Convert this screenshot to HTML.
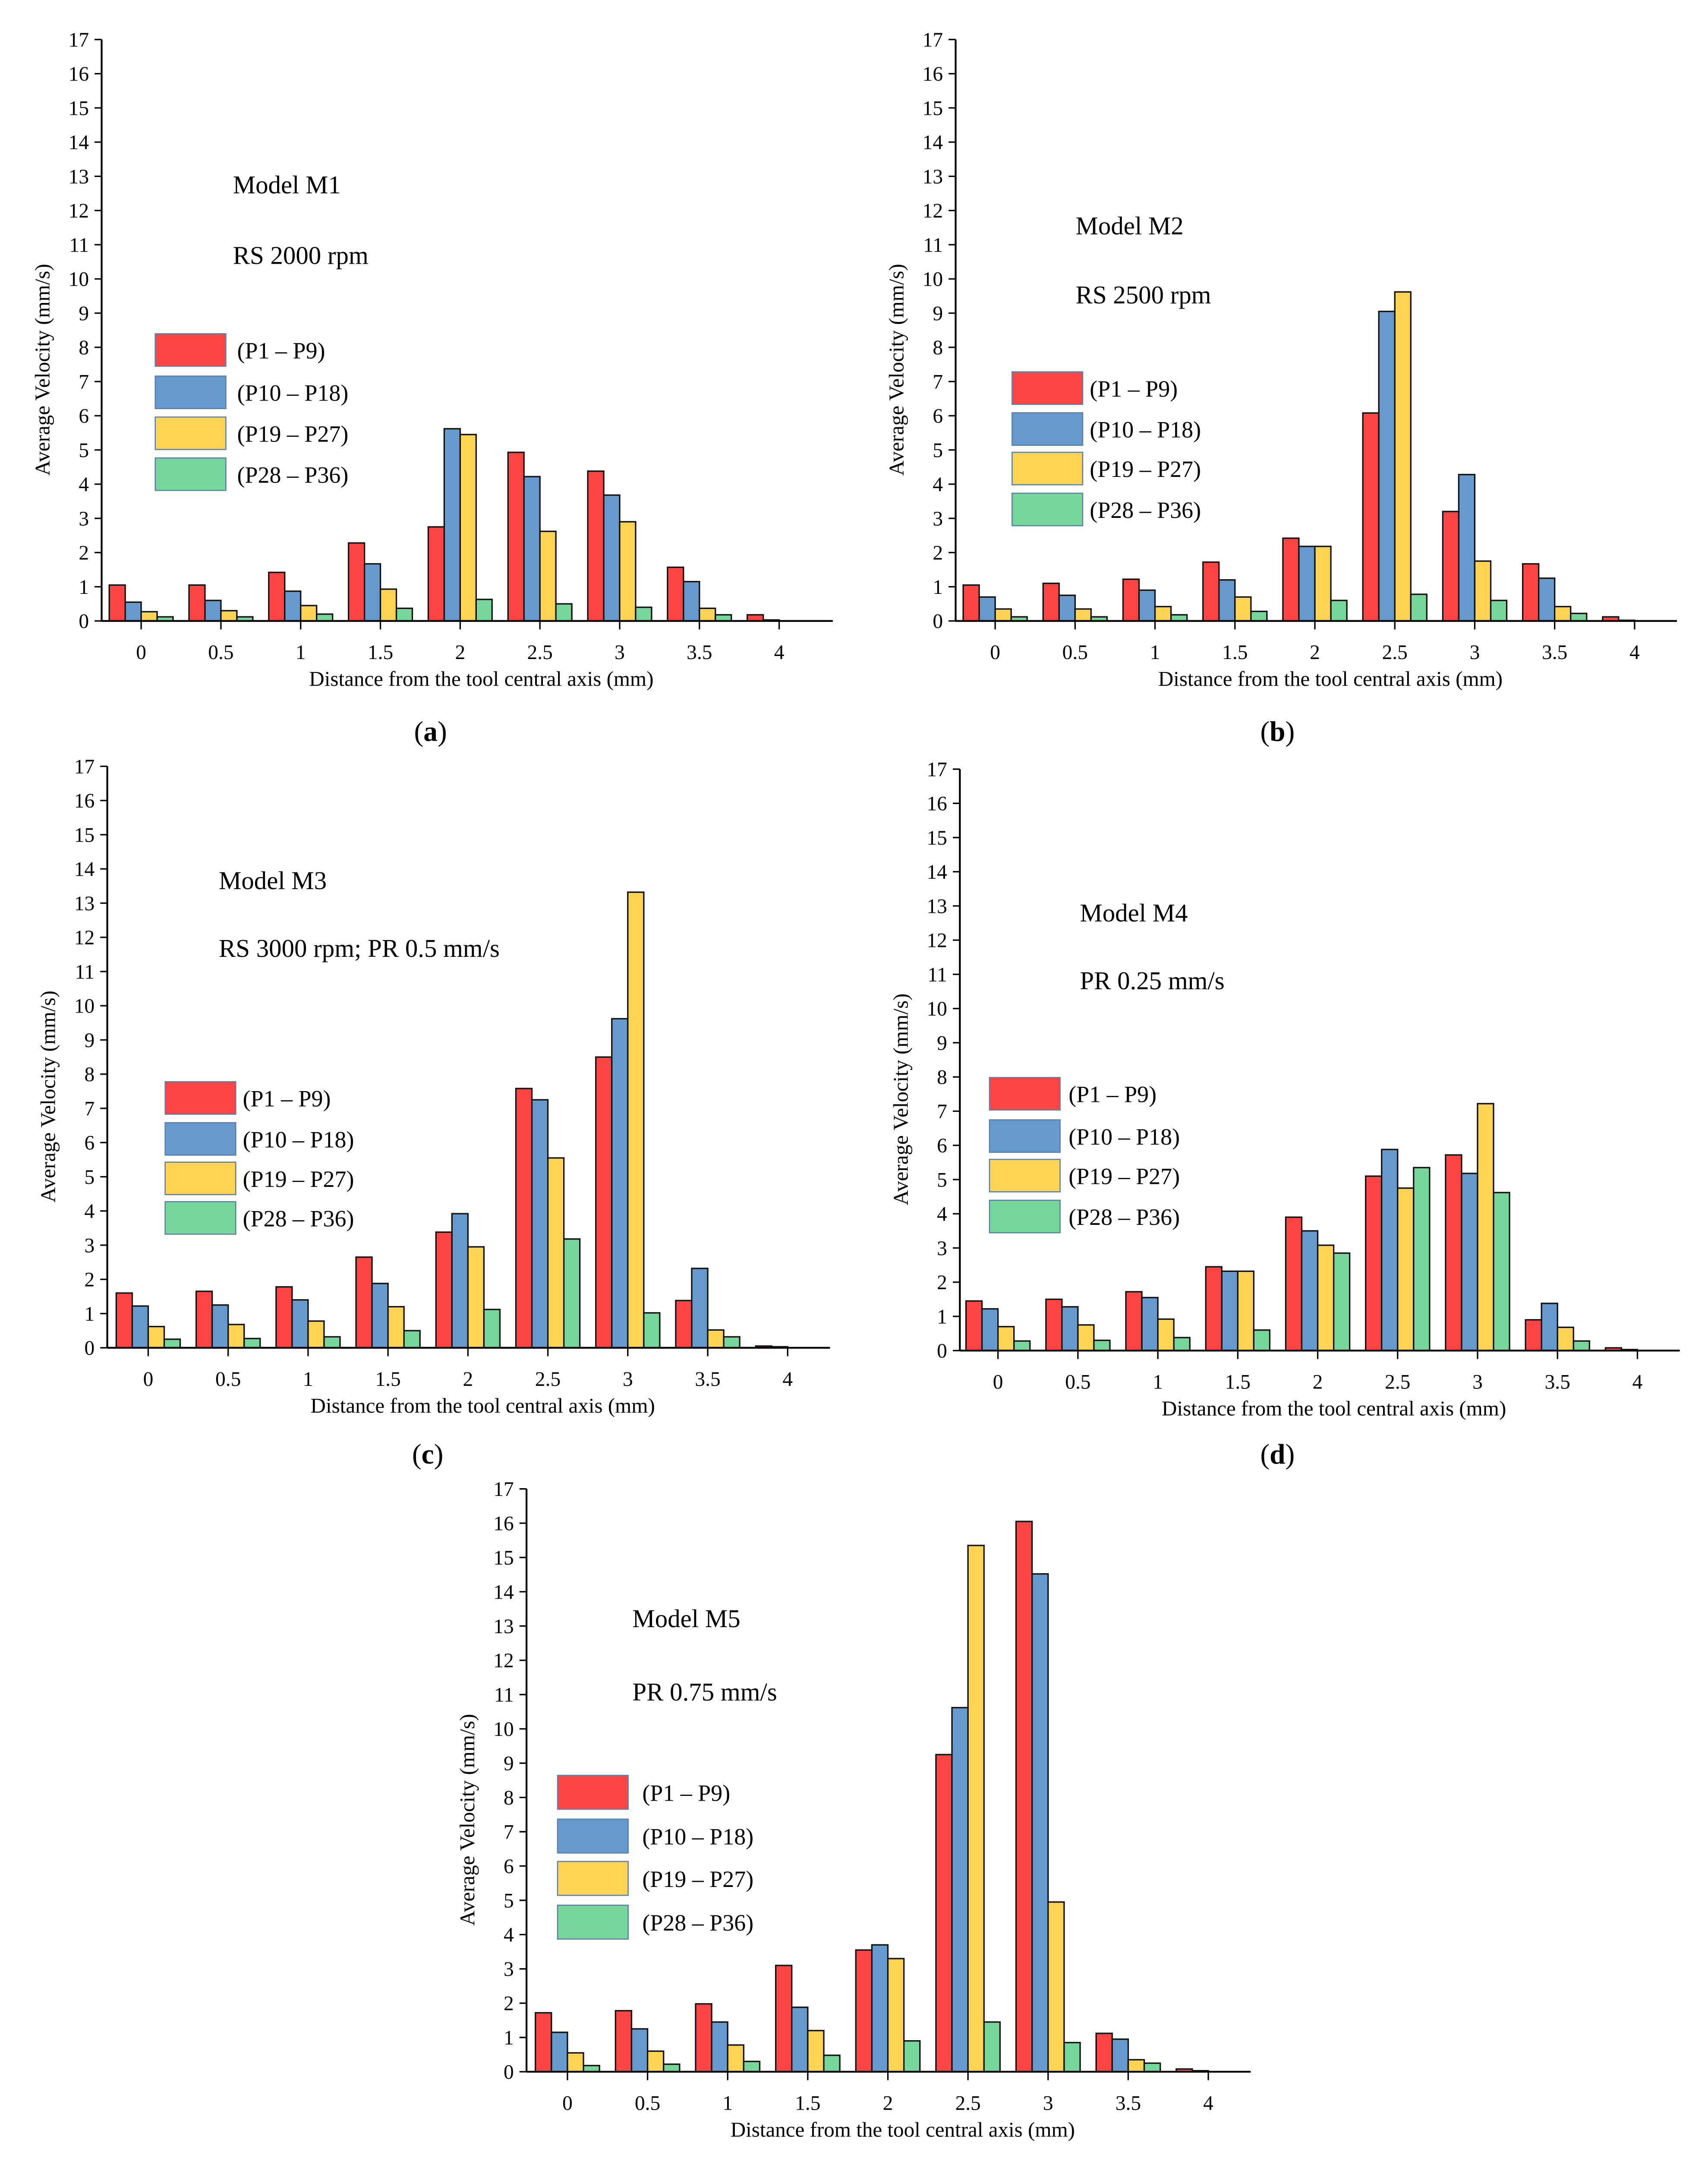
<!DOCTYPE html>
<html><head><meta charset="utf-8">
<style>html,body{margin:0;padding:0;background:#fff;overflow:hidden;width:3958px;height:5150px}svg{display:block}text{font-family:"Liberation Serif",serif;fill:#000}</style>
</head><body>
<svg id="fig" width="3958" height="5150" viewBox="0 0 1210 1575" preserveAspectRatio="none" xmlns="http://www.w3.org/2000/svg"></svg>
<script>
const categories = ["0","0.5","1","1.5","2","2.5","3","3.5","4"];
const yTicks = [0,1,2,3,4,5,6,7,8,9,10,11,12,13,14,15,16,17];
const seriesNames = ["(P1 – P9)","(P10 – P18)","(P19 – P27)","(P28 – P36)"];
const colors = ["#FF4444","#6699CC","#FFD455","#77D699"];

const aRed = [1.05,1.05,1.42,2.28,2.75,4.93,4.38,1.57,0.18];
const aBlue = [0.55,0.6,0.87,1.67,5.62,4.22,3.68,1.15,0.03];
const aYellow = [0.27,0.3,0.45,0.93,5.45,2.62,2.9,0.37,0];
const aGreen = [0.12,0.12,0.2,0.37,0.63,0.5,0.4,0.18,0];

const bRed = [1.05,1.1,1.22,1.72,2.42,6.08,3.2,1.67,0.12];
const bBlue = [0.7,0.75,0.9,1.2,2.18,9.05,4.28,1.25,0.02];
const bYellow = [0.35,0.35,0.42,0.7,2.18,9.62,1.75,0.42,0];
const bGreen = [0.12,0.12,0.18,0.28,0.6,0.78,0.6,0.22,0];

const cRed = [1.6,1.65,1.78,2.65,3.38,7.58,8.5,1.38,0.05];
const cBlue = [1.22,1.25,1.4,1.88,3.92,7.25,9.62,2.32,0.03];
const cYellow = [0.62,0.68,0.78,1.2,2.95,5.55,13.32,0.52,0];
const cGreen = [0.25,0.27,0.32,0.5,1.12,3.18,1.02,0.32,0];

const dRed = [1.45,1.5,1.72,2.45,3.9,5.1,5.72,0.9,0.08];
const dBlue = [1.22,1.28,1.55,2.32,3.5,5.88,5.18,1.38,0.03];
const dYellow = [0.7,0.75,0.92,2.32,3.08,4.75,7.22,0.68,0];
const dGreen = [0.28,0.3,0.38,0.6,2.85,5.35,4.62,0.28,0];

const eRed = [1.72,1.78,1.98,3.1,3.55,9.25,16.05,1.12,0.08];
const eBlue = [1.15,1.25,1.45,1.88,3.7,10.62,14.52,0.95,0.03];
const eYellow = [0.55,0.6,0.78,1.2,3.3,15.35,4.95,0.35,0];
const eGreen = [0.18,0.22,0.3,0.48,0.9,1.45,0.85,0.25,0];

const panels = [
 {id:"a",ax:72,top:28,bot:440,c0:100,c4:552,end:590,series:[aRed,aBlue,aYellow,aGreen],
  t1:"Model M1",t2:"RS 2000 rpm",tx:165,ty1:137,ty2:187,lx:110,ly:[248,278,307,336],lh:23,ltx:168,lab:"(a)",labx:305,laby:525},
 {id:"b",ax:677,top:28,bot:440,c0:705,c4:1158,end:1188,series:[bRed,bBlue,bYellow,bGreen],
  t1:"Model M2",t2:"RS 2500 rpm",tx:762,ty1:166,ty2:215,lx:717,ly:[275,304,332,361],lh:23,ltx:772,lab:"(b)",labx:905,laby:525},
 {id:"c",ax:76,top:543,bot:955,c0:105,c4:558,end:588,series:[cRed,cBlue,cYellow,cGreen],
  t1:"Model M3",t2:"RS 3000 rpm; PR 0.5 mm/s",tx:155,ty1:630,ty2:678,lx:117,ly:[778,807,835,863],lh:23,ltx:172,lab:"(c)",labx:303,laby:1037},
 {id:"d",ax:680,top:545,bot:957,c0:707,c4:1160,end:1190,series:[dRed,dBlue,dYellow,dGreen],
  t1:"Model M4",t2:"PR 0.25 mm/s",tx:765,ty1:653,ty2:701,lx:701,ly:[775,805,833,862],lh:23,ltx:757,lab:"(d)",labx:905,laby:1037},
 {id:"e",ax:373,top:1055,bot:1468,c0:402,c4:856,end:886,series:[eRed,eBlue,eYellow,eGreen],
  t1:"Model M5",t2:"PR 0.75 mm/s",tx:448,ty1:1153,ty2:1205,lx:395,ly:[1270,1301,1331,1362],lh:24,ltx:455,lab:"(e)",labx:604,laby:1548}
];

const NS="http://www.w3.org/2000/svg";
const svg=document.getElementById("fig");
function mk(tag,attrs,parent){const e=document.createElementNS(NS,tag);for(const k in attrs)e.setAttribute(k,attrs[k]);(parent||svg).appendChild(e);return e;}

panels.forEach(p=>{
  const g=mk("g",{});
  
  
  const yScale=v=>p.bot-(v/17)*(p.bot-p.top);
  const step=(p.c4-p.c0)/(categories.length-1);
  const xScale=i=>p.c0+i*step;
  const bw=step*0.2;
  p.series.forEach((arr,s)=>{
    arr.forEach((v,i)=>{
      if(v<=0) return;
      const x=xScale(i)-2*bw+s*bw;
      const r=mk("rect",{x:x,y:yScale(v),width:bw,height:p.bot-yScale(v),fill:colors[s],stroke:"#111","stroke-width":1},g);
      
      
    });
  });
  const ya=mk("line",{x1:p.ax,y1:p.top,x2:p.ax,y2:p.bot,stroke:"#000","stroke-width":1.3},g);
  
  
  const xa=mk("line",{x1:p.ax,y1:p.bot,x2:p.end,y2:p.bot,stroke:"#000","stroke-width":1.3},g);
  
  
  yTicks.forEach(t=>{
    const y=yScale(t);
    mk("line",{x1:p.ax-5,y1:y,x2:p.ax,y2:y,stroke:"#000","stroke-width":1},g);
    const tl=mk("text",{x:p.ax-9,y:y+5,"font-size":14.5,"text-anchor":"end"},g);
    tl.textContent=t;
    
    
  });
  categories.forEach((c,i)=>{
    const x=xScale(i);
    mk("line",{x1:x,y1:p.bot,x2:x,y2:p.bot+6,stroke:"#000","stroke-width":1},g);
    const tl=mk("text",{x:x,y:p.bot+27,"font-size":14.5,"text-anchor":"middle"},g);
    tl.textContent=c;
    
    
  });
  const xt=mk("text",{x:(p.ax+p.end)/2+10,y:p.bot+46,"font-size":15,"text-anchor":"middle"},g);
  xt.textContent="Distance from the tool central axis (mm)";
  
  
  const yc=(p.top+p.bot)/2+28;
  const yt=mk("text",{x:0,y:0,"font-size":15,"text-anchor":"middle",transform:`translate(${p.ax-37},${yc}) rotate(-90)`},g);
  yt.textContent="Average Velocity (mm/s)";
  
  
  const a1=mk("text",{x:p.tx,y:p.ty1,"font-size":18},g);
  a1.textContent=p.t1;
  
  
  const a2=mk("text",{x:p.tx,y:p.ty2,"font-size":18},g);
  a2.textContent=p.t2;
  
  
  seriesNames.forEach((n,s)=>{
    const cy=p.ly[s];
    const sw=mk("rect",{x:p.lx,y:cy-p.lh/2,width:50,height:p.lh,fill:colors[s],stroke:"#5b7fa8","stroke-width":0.8},g);
    
    
    const lt=mk("text",{x:p.ltx,y:cy+6,"font-size":16.5},g);
    lt.textContent=n;
    
    
  });
  const lb=mk("text",{x:p.labx,y:p.laby,"font-size":20,"text-anchor":"middle"},g);
  lb.innerHTML='(<tspan font-weight="bold">'+p.lab.slice(1,2)+'</tspan>)';
  
  
});
</script>
</body></html>
